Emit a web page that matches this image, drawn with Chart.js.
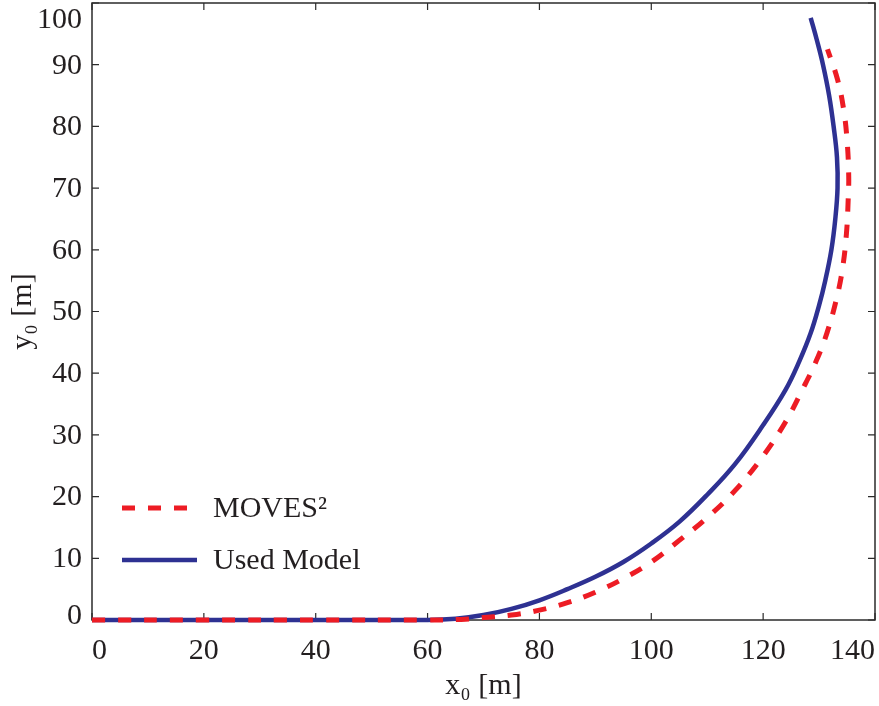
<!DOCTYPE html>
<html>
<head>
<meta charset="utf-8">
<script src="https://cdn.jsdelivr.net/npm/chart.js@4.4.1/dist/chart.umd.min.js"></script>
<style>
  html, body { margin: 0; padding: 0; background: #fff; }
  #wrap { width: 879px; height: 706px; }
</style>
</head>
<body>
<div id="wrap"><canvas id="pathChart" width="879" height="706"></canvas></div>
<script>
// trajectory samples [m]
const movesX = [0, 20, 40, 60, 66, 70, 75, 80, 85, 90, 95, 100, 105, 110, 115, 120, 124, 127, 129.5, 131.4, 133.1, 134.2, 134.9, 135.2, 135.3, 135.0, 134.4, 133.3, 131.5];
const movesY = [0, 0, 0, 0, 0.1, 0.4, 0.8, 1.6, 2.8, 4.5, 6.7, 9.4, 12.9, 16.6, 21.0, 26.6, 32.1, 37.3, 42, 46.5, 52, 57, 62.7, 68, 72, 77.8, 82.7, 87.6, 92.5];

const modelX = [0, 20, 40, 60, 65, 70, 75, 80, 85, 90, 95, 100, 105, 110, 115, 120, 124, 126.5, 128.5, 130.0, 131.1, 132.2, 132.9, 133.3, 133.2, 132.6, 131.8, 130.7, 129.6, 128.5];
const modelY = [0, 0, 0, 0, 0.2, 0.8, 1.8, 3.2, 5.0, 7.0, 9.4, 12.4, 15.9, 20.3, 25.3, 31.6, 37.3, 42, 46.5, 51, 55, 60, 65, 70, 75, 80, 85, 90, 94, 97.6];

const xTicks = [0, 20, 40, 60, 80, 100, 120, 140];
const yTicks = [0, 10, 20, 30, 40, 50, 60, 70, 80, 90, 100];

const FONT = "'Liberation Serif', 'DejaVu Serif', serif";
const TEXT = '#231f20';

function toPoints(xs, ys) {
  return xs.map((x, i) => ({ x: x, y: ys[i] }));
}

// box around the plot with inward tick marks on all four sides,
// plus the y tick labels (end labels pulled inside the box height)
const framePlugin = {
  id: 'frame',
  beforeDatasetsDraw(chart) {
    const { ctx, chartArea: a, scales } = chart;
    ctx.save();
    ctx.strokeStyle = '#2b2b2b';
    ctx.lineWidth = 1.5;
    ctx.strokeRect(a.left, a.top, a.right - a.left, a.bottom - a.top);
    ctx.lineWidth = 1.2;
    ctx.beginPath();
    xTicks.forEach(v => {
      const px = scales.x.getPixelForValue(v);
      ctx.moveTo(px, a.bottom); ctx.lineTo(px, a.bottom - 7);
      ctx.moveTo(px, a.top); ctx.lineTo(px, a.top + 7);
    });
    yTicks.forEach(v => {
      const py = scales.y.getPixelForValue(v);
      ctx.moveTo(a.left, py); ctx.lineTo(a.left + 7, py);
      ctx.moveTo(a.right, py); ctx.lineTo(a.right - 7, py);
    });
    ctx.stroke();

    ctx.fillStyle = TEXT;
    ctx.font = '30px ' + FONT;
    ctx.textAlign = 'right';
    ctx.textBaseline = 'middle';
    yTicks.forEach((v, i) => {
      let py = scales.y.getPixelForValue(v);
      if (i === 0) py -= 5;
      if (i === yTicks.length - 1) py += 16;
      ctx.fillText(String(v), a.left - 10, py + 1);
    });
    ctx.restore();
  }
};

// legend box in the lower left of the plot
const legendPlugin = {
  id: 'innerLegend',
  afterDatasetsDraw(chart) {
    const { ctx } = chart;
    const x0 = 122, len = 75, rows = [508, 560];
    ctx.save();
    chart.data.datasets.forEach((ds, i) => {
      const y = rows[i];
      ctx.strokeStyle = ds.borderColor;
      ctx.lineWidth = ds.borderWidth;
      ctx.setLineDash(ds.borderDash || []);
      ctx.beginPath();
      ctx.moveTo(x0, y);
      ctx.lineTo(x0 + len, y);
      ctx.stroke();
      ctx.setLineDash([]);
      ctx.fillStyle = TEXT;
      ctx.font = '30px ' + FONT;
      ctx.textBaseline = 'middle';
      ctx.fillText(ds.label, x0 + len + 16, y + 1);
    });
    ctx.restore();
  }
};

new Chart(document.getElementById('pathChart'), {
  type: 'scatter',
  data: {
    datasets: [
      {
        label: 'MOVES²',
        data: toPoints(movesX, movesY),
        showLine: true,
        borderColor: '#ed1c24',
        borderWidth: 5,
        borderDash: [13, 13],
        pointRadius: 0,
        tension: 0.4,
        clip: 8
      },
      {
        label: 'Used Model',
        data: toPoints(modelX, modelY),
        showLine: true,
        borderColor: '#2e3192',
        borderWidth: 4.5,
        pointRadius: 0,
        tension: 0.4,
        clip: 8
      }
    ]
  },
  options: {
    responsive: false,
    animation: false,
    events: [],
    layout: { padding: { top: 3, right: 4, left: 0, bottom: 0 } },
    plugins: {
      legend: { display: false },
      tooltip: { enabled: false }
    },
    scales: {
      x: {
        type: 'linear',
        min: 0,
        max: 140,
        afterFit: s => { s.height = 86; s.paddingLeft = 0; s.paddingRight = 0; },
        afterBuildTicks: s => { s.ticks = xTicks.map(v => ({ value: v })); },
        grid: { display: false },
        border: { display: false },
        ticks: { color: TEXT, font: { family: FONT, size: 30 }, padding: 5, align: 'inner', maxRotation: 0 },
        title: { display: true, text: 'x₀ [m]', color: TEXT, font: { family: FONT, size: 30 }, padding: { top: 0, bottom: 2 } }
      },
      y: {
        type: 'linear',
        min: 0,
        max: 100,
        afterFit: s => { s.width = 92; s.paddingTop = 0; s.paddingBottom = 0; },
        afterBuildTicks: s => { s.ticks = yTicks.map(v => ({ value: v })); },
        grid: { display: false },
        border: { display: false },
        ticks: { display: false },
        title: { display: true, text: 'y₀ [m]', color: TEXT, font: { family: FONT, size: 30 }, padding: { top: 5, bottom: 0 } }
      }
    }
  },
  plugins: [framePlugin, legendPlugin]
});
</script>
</body>
</html>
